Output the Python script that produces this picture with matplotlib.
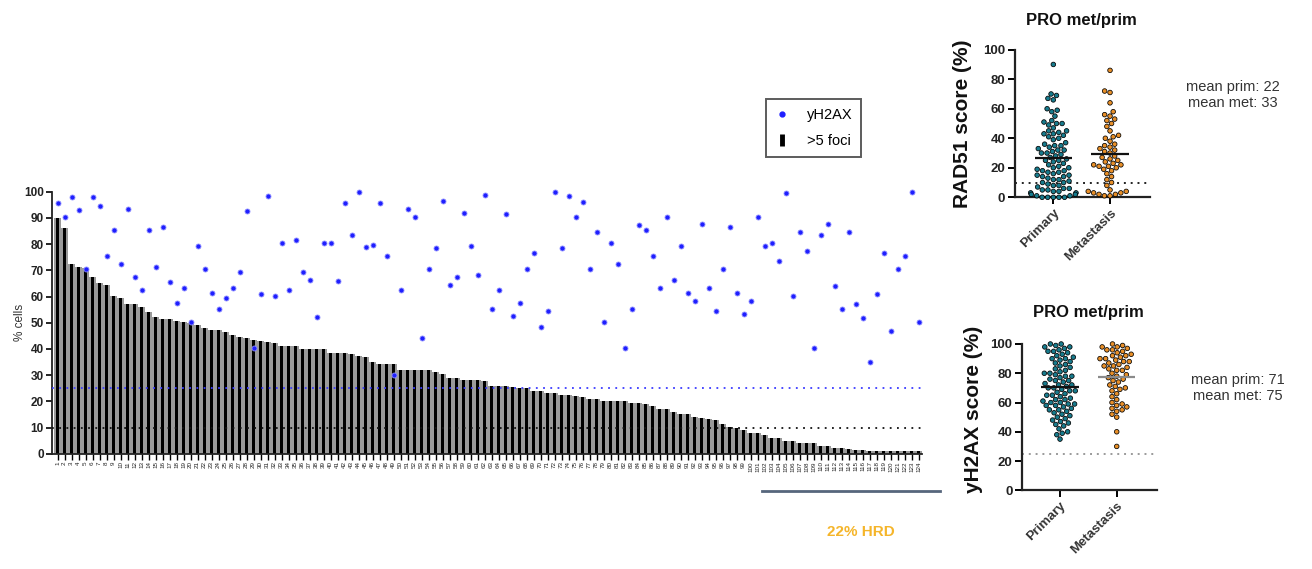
import numpy as np
import matplotlib
matplotlib.use('Agg')
import matplotlib.pyplot as plt
from matplotlib.lines import Line2D
import seaborn as sns

plt.rcParams['font.family'] = ['Liberation Sans', 'DejaVu Sans']

# ---------------- data ----------------
sample_labels = [str(i) for i in range(1, 125)]

foci_pct = [
    90, 86, 72.3, 71.4, 70.7, 67.3, 65, 64.2, 60.3, 59.3, 57.1, 57.1, 56.1, 54.1, 52.3, 51.3,
    51.3, 50.8, 50.4, 50, 49, 48.1, 47.2, 47.2, 46.3, 45.2, 44.7, 44, 43.3, 43, 42.5,
    42.1, 41.1, 41.1, 41.1, 40.1, 40.1, 40.1, 40.1, 38.5, 38.3, 38.3, 38, 37.4, 37, 35.1,
    34.2, 34.2, 34.2, 32.1, 32.1, 32.1, 32.1, 31.9, 31.2, 30.4, 29, 29, 28, 28, 28, 27.8,
    26, 26, 25.8, 25.6, 24.9, 24.9, 24, 24, 23, 23, 22.4, 22.4, 22, 21.5, 21, 21,
    20.1, 20.1, 20.1, 20.1, 19.2, 19.2, 18.8, 18.3, 17, 17, 16, 15.1, 15.1, 14.1,
    13.7, 13.1, 12.8, 11.2, 10.3, 9.7, 9, 8, 8, 7.1, 6.1, 6.1, 5, 5, 3.9, 3.9, 3.9,
    3.1, 3.1, 2.3, 2.3, 1.9, 1.4, 1.4, 1.1, 1.1, 1.1, 1.1, 1.1, 1.1, 1.1, 1.1,
]

yh2ax_pct = [
    95.5, 90.5, 98, 93, 70.4, 98, 94.5, 75.4, 85.4, 72.4, 93.5, 67.4, 62.5, 85.4, 71.4, 86.6,
    65.4, 57.5, 63.4, 50.1, 79.3, 70.4, 61.3, 55.3, 59.5, 63.4, 69.3, 92.6, 40.2, 60.9, 98.5,
    60.3, 80.5, 62.3, 81.4, 69.3, 66.4, 52.3, 80.5, 80.5, 65.8, 95.5, 83.5, 100, 78.9, 79.6,
    95.5, 75.4, 30.2, 62.6, 93.5, 90.5, 44.3, 70.6, 78.4, 96.6, 64.5, 67.4, 91.7, 79.4, 68.3, 98.9,
    55.3, 62.3, 91.5, 52.5, 57.4, 70.4, 76.5, 48.3, 54.3, 100, 78.6, 98.5, 90.5, 96.2, 70.4,
    84.5, 50.3, 80.4, 72.4, 40.2, 55.3, 87.3, 85.5, 75.4, 63.4, 90.5, 66.4, 79.4, 61.3, 58.3,
    87.7, 63.4, 54.3, 70.4, 86.6, 61.3, 53.3, 58.3, 90.5, 79.4, 80.4, 73.5, 99.5, 60.3, 84.7,
    77.4, 40.2, 83.5, 87.5, 64.1, 55.3, 84.5, 57.3, 51.8, 34.9, 61.1, 76.5, 47, 70.4, 75.4, 100, 50.4,
]

groups = ['Primary', 'Metastasis']

rad51_primary = [
    90, 70, 69, 67, 66, 60, 59, 58, 55, 52, 51, 50, 50, 49, 47, 45, 45, 44, 43, 43, 42, 41,
    40, 39, 37, 36, 35, 35, 34, 33, 32, 32, 31, 30, 30, 29, 28, 27, 26, 25, 25, 24, 23, 22,
    21, 20, 20, 19, 18, 18, 17, 17, 16, 15, 15, 14, 14, 13, 12, 12, 11, 10, 10, 9, 8, 8, 7,
    6, 6, 5, 5, 4, 4, 3, 3, 2, 2, 1, 1, 0, 0, 0, 0, 0,
]
rad51_metastasis = [
    86, 72, 71, 64, 58, 56, 55, 53, 52, 50, 48, 45, 42, 41, 40, 38, 36, 35, 34, 33, 32, 31,
    30, 28, 27, 26, 25, 24, 23, 22, 22, 21, 21, 20, 19, 18, 16, 14, 12, 10, 8, 5, 4, 4, 3,
    3, 2, 2, 1, 1,
]
yh2ax_primary = [
    100, 100, 99, 98, 98, 97, 96, 95, 95, 94, 93, 92, 91, 90, 90, 89, 88, 87, 86, 85, 84, 83,
    82, 81, 80, 80, 79, 78, 78, 77, 76, 75, 75, 74, 73, 72, 72, 71, 70, 70, 69, 68, 68, 67,
    66, 65, 65, 64, 63, 62, 62, 61, 60, 60, 59, 59, 58, 58, 57, 56, 55, 55, 54, 53, 52, 51,
    50, 49, 48, 47, 46, 45, 44, 42, 40, 39, 38, 35,
]
yh2ax_metastasis = [
    100, 99, 98, 98, 97, 96, 96, 95, 94, 93, 92, 92, 91, 90, 90, 89, 88, 88, 87, 86, 85, 85,
    84, 83, 82, 82, 80, 79, 78, 77, 76, 75, 74, 72, 71, 70, 69, 68, 66, 64, 62, 60, 59, 58,
    57, 56, 55, 54, 52, 50, 40, 30,
]

rad51_threshold = 10
yh2ax_threshold = 25
panel_title = 'PRO met/prim'
rad51_mean_text = 'mean prim: 22\nmean met: 33'
yh2ax_mean_text = 'mean prim: 71\nmean met: 75'
hrd_text = '22% HRD'

# ---------------- layout helpers ----------------
W, H = 1312, 569
fig = plt.figure(figsize=(W / 100, H / 100), dpi=100)


def box(x0, y_top, x1, y_bottom):
    return [x0 / W, 1 - y_bottom / H, (x1 - x0) / W, (y_bottom - y_top) / H]


# ---------------- main bar chart ----------------
ax = fig.add_axes(box(52, 191.7, 922, 453.7))
xpos = np.arange(len(foci_pct))
ax.bar(xpos, foci_pct, width=1.0, color='#9a9a9a', linewidth=0, zorder=1)
ax.bar(xpos, foci_pct, width=0.47, color='black', linewidth=0, zorder=2)
ax.axhline(yh2ax_threshold, color='#3a3aff', ls=(0, (1, 3)), lw=1.3, zorder=3)
ax.axhline(rad51_threshold, color='#111111', ls=(0, (1, 3)), lw=1.3, zorder=3)
ax.scatter(xpos, yh2ax_pct, s=13, color='#1f1fff', edgecolor='#8c8cff', linewidth=0.6,
           zorder=5, clip_on=False)
ax.set_xlim(-0.8, len(foci_pct) - 0.5)
ax.set_ylim(0, 100)
ax.set_yticks(range(0, 101, 10))
ax.set_xticks(xpos)
ax.set_xticklabels(sample_labels, rotation=90, fontsize=4.5, color='#222222')
ax.tick_params(axis='x', length=4, width=1, pad=1.5)
ax.tick_params(axis='y', length=4, width=1.2, pad=2, labelsize=8.5)
for lab in ax.get_yticklabels():
    lab.set_fontweight('bold')
    lab.set_color('#222222')
for s in ['top', 'right']:
    ax.spines[s].set_visible(False)
for s in ['left', 'bottom']:
    ax.spines[s].set_linewidth(1.3)
    ax.spines[s].set_color('#222222')
ax.set_ylabel('% cells', fontsize=8.5, color='#333333')
ax.yaxis.set_label_coords(-0.03, 0.5)

handles = [
    Line2D([], [], marker='o', markersize=3.5, color='#1f1fff', ls='None'),
    Line2D([], [], marker='|', markersize=9, markeredgewidth=3.5, color='black', ls='None'),
]
leg = ax.legend(handles, ['yH2AX', '>5 foci'], loc='upper left',
                bbox_to_anchor=(766 / W, 1 - 99 / H), bbox_transform=fig.transFigure,
                fontsize=10.5, frameon=True, fancybox=False, borderaxespad=0,
                handlelength=1.0, handletextpad=1.2, borderpad=0.6, labelspacing=0.85)
leg.get_frame().set_edgecolor('#333333')
leg.get_frame().set_linewidth(1.4)

# HRD annotation
fig.add_artist(Line2D([762 / W, 940 / W], [1 - 491 / H, 1 - 491 / H],
                      transform=fig.transFigure, color='#56667c', lw=2))
fig.text(861 / W, 1 - 532 / H, hrd_text, color='#f5b52a', fontsize=11, fontweight='bold',
         ha='center', va='center')

# ---------------- scatter panels ----------------
palette = {'Primary': '#177b8d', 'Metastasis': '#e88f28'}


def panel(rect, prim, met, thr, thr_color, ylabel, label_x, label_y, xlim, mean_colors):
    a = fig.add_axes(rect)
    xs = ['Primary'] * len(prim) + ['Metastasis'] * len(met)
    ys = list(prim) + list(met)
    sns.swarmplot(x=xs, y=ys, hue=xs, order=groups, hue_order=groups, palette=palette,
                  size=3.3, linewidth=0.55, edgecolor='black', legend=False, ax=a,
                  zorder=3, clip_on=False, warn_thresh=1.0)
    for i, vals in enumerate([prim, met]):
        a.hlines(np.mean(vals), i - 0.33, i + 0.33, color=mean_colors[i], lw=1.6, zorder=6)
    a.axhline(thr, color=thr_color, ls=(0, (1, 2.5)), lw=1.4, zorder=1)
    a.set_xlim(*xlim)
    a.set_ylim(0, 100)
    a.set_yticks(range(0, 101, 20))
    a.set_xticks([0, 1])
    a.set_xticklabels(groups, rotation=45, ha='right', rotation_mode='anchor',
                      fontsize=9.5, fontweight='bold', color='#333333')
    a.tick_params(axis='both', length=5, width=1.4, pad=2, labelsize=9.5)
    for lab in a.get_yticklabels():
        lab.set_fontweight('bold')
        lab.set_color('#222222')
    for s in ['top', 'right']:
        a.spines[s].set_visible(False)
    for s in ['left', 'bottom']:
        a.spines[s].set_linewidth(1.6)
        a.spines[s].set_color('#222222')
    a.set_ylabel(ylabel, fontsize=15, fontweight='bold', color='#111111')
    a.yaxis.set_label_coords(label_x, label_y)
    a.set_xlabel('')
    return a


panel(box(1015, 49.7, 1150, 197.3), rad51_primary, rad51_metastasis, rad51_threshold,
      '#222222', 'RAD51 score (%)', -0.32, 0.5, (-0.676, 1.705), ['#111111', '#111111'])
panel(box(1022.3, 344, 1156.7, 490.3), yh2ax_primary, yh2ax_metastasis, yh2ax_threshold,
      '#9a9a9a', 'yH2AX score (%)', -0.29, 0.55, (-0.665, 1.705), ['#111111', '#8a8a8a'])

fig.text(1081 / W, 1 - 20 / H, panel_title, fontsize=12, fontweight='bold', ha='center',
         va='center', color='#111111')
fig.text(1088 / W, 1 - 313 / H, panel_title, fontsize=12, fontweight='bold', ha='center',
         va='center', color='#111111')
fig.text(1233 / W, 1 - 95 / H, rad51_mean_text, fontsize=10.5, ha='center', va='center',
         multialignment='center', color='#333333', linespacing=1.1)
fig.text(1238 / W, 1 - 388 / H, yh2ax_mean_text, fontsize=10.5, ha='center', va='center',
         multialignment='center', color='#333333', linespacing=1.1)

fig.savefig('out.png', dpi=100)
